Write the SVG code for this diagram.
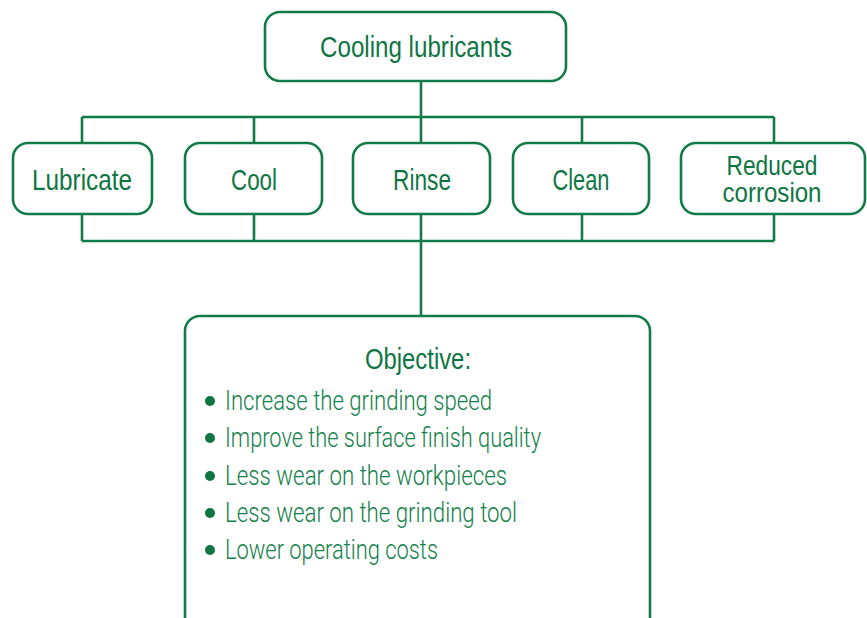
<svg xmlns="http://www.w3.org/2000/svg" width="867" height="618" viewBox="0 0 867 618">
<style>
.box{fill:#fff;stroke:#107b47;stroke-width:2.6}
.line{fill:none;stroke:#107b47;stroke-width:2.6}
.lbl{font-family:"Liberation Sans",Arial,sans-serif;font-size:30px;fill:#0e7543;text-anchor:middle}
.sm{font-size:27px}
.item{font-family:Roboto,"Liberation Sans",sans-serif;font-weight:300;font-size:27px;fill:#12804a}
.dot{fill:#0e7543}
</style>
<g id="connectors">
<path class="line" d="M421 81V117M82 117H774M82 117V143M254 117V143M421 117V143M582 117V143M774 117V143"/>
<path class="line" d="M82 214V241M254 214V241M421 214V241M582 214V241M774 214V241M82 241H774M421 241V316"/>
</g>
<g id="cooling-lubricants">
<rect class="box" x="265" y="12" width="301" height="69" rx="15"/>
<text class="lbl" x="416" y="57" textLength="192" lengthAdjust="spacingAndGlyphs">Cooling lubricants</text>
</g>
<g id="lubricate">
<rect class="box" x="13" y="143" width="139" height="71" rx="15"/>
<text class="lbl" x="82" y="190" textLength="100" lengthAdjust="spacingAndGlyphs">Lubricate</text>
</g>
<g id="cool">
<rect class="box" x="185" y="143" width="137" height="71" rx="15"/>
<text class="lbl" x="254" y="190" textLength="46" lengthAdjust="spacingAndGlyphs">Cool</text>
</g>
<g id="rinse">
<rect class="box" x="353" y="143" width="137" height="71" rx="15"/>
<text class="lbl" x="422" y="190" textLength="58" lengthAdjust="spacingAndGlyphs">Rinse</text>
</g>
<g id="clean">
<rect class="box" x="513" y="143" width="136" height="71" rx="15"/>
<text class="lbl" x="581" y="190" textLength="57" lengthAdjust="spacingAndGlyphs">Clean</text>
</g>
<g id="reduced-corrosion">
<rect class="box" x="681" y="143" width="184" height="71" rx="15"/>
<text class="lbl sm" x="772" y="175" textLength="91" lengthAdjust="spacingAndGlyphs">Reduced</text>
<text class="lbl sm" x="772" y="202" textLength="99" lengthAdjust="spacingAndGlyphs">corrosion</text>
</g>
<g id="objective">
<rect class="box" x="185" y="316" width="465" height="330" rx="15"/>
<text class="lbl" x="418" y="369" textLength="106" lengthAdjust="spacingAndGlyphs">Objective:</text>
<circle class="dot" cx="210" cy="401" r="5"/>
<circle class="dot" cx="210" cy="438" r="5"/>
<circle class="dot" cx="210" cy="476" r="5"/>
<circle class="dot" cx="210" cy="513" r="5"/>
<circle class="dot" cx="210" cy="550" r="5"/>
<text class="item" x="225" y="410" textLength="267" lengthAdjust="spacingAndGlyphs">Increase the grinding speed</text>
<text class="item" x="225" y="447" textLength="316" lengthAdjust="spacingAndGlyphs">Improve the surface finish quality</text>
<text class="item" x="225" y="485" textLength="282" lengthAdjust="spacingAndGlyphs">Less wear on the workpieces</text>
<text class="item" x="225" y="522" textLength="292" lengthAdjust="spacingAndGlyphs">Less wear on the grinding tool</text>
<text class="item" x="225" y="559" textLength="213" lengthAdjust="spacingAndGlyphs">Lower operating costs</text>
</g>
</svg>
